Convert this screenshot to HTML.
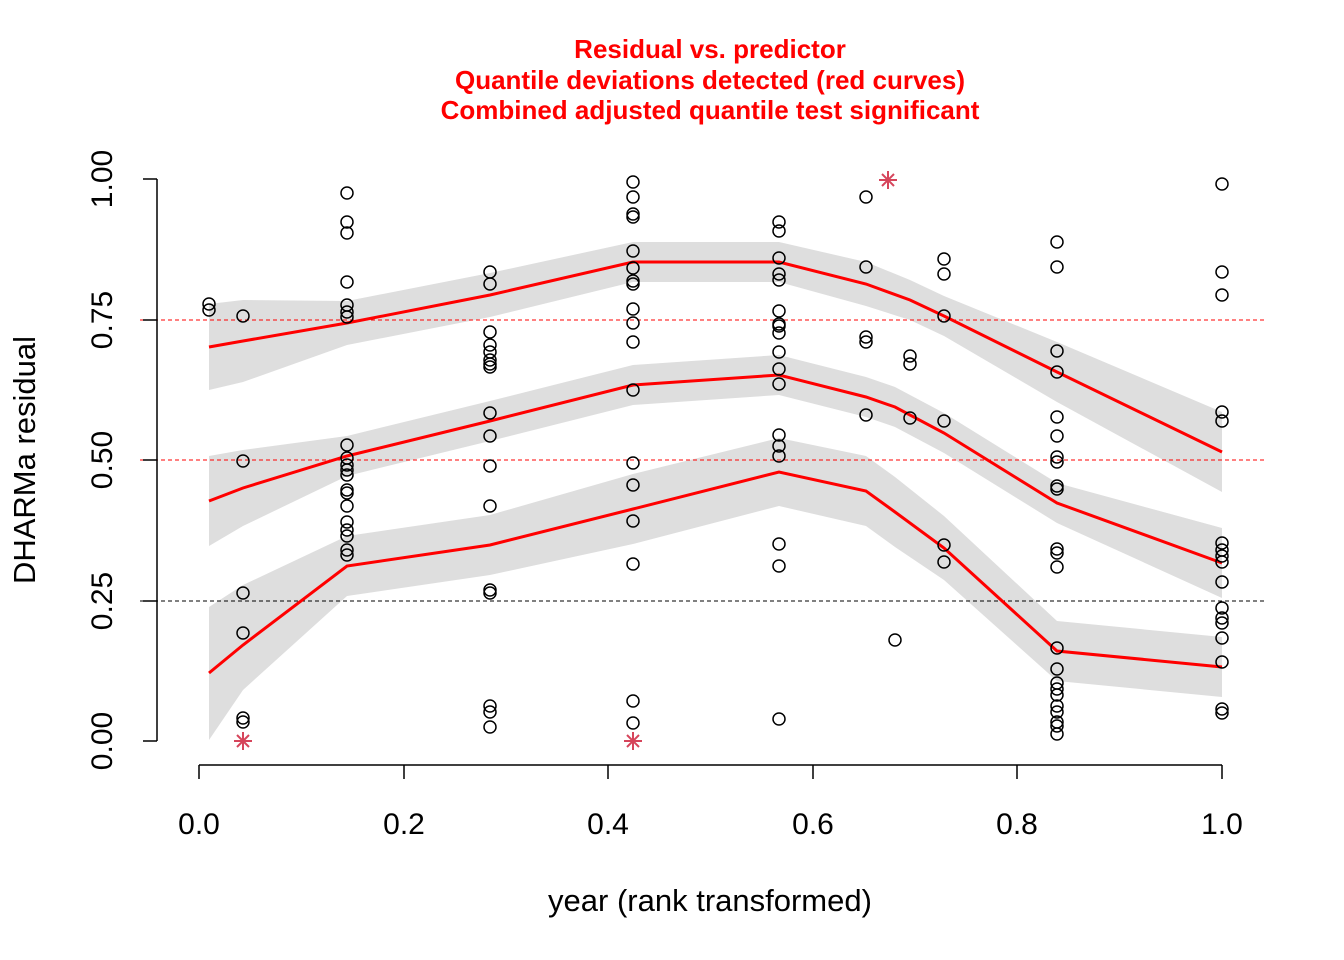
<!DOCTYPE html>
<html><head><meta charset="utf-8"><style>body{margin:0;background:#fff}svg{display:block}text{font-family:"Liberation Sans",Arial,sans-serif}</style></head>
<body>
<svg width="1344" height="960" viewBox="0 0 1344 960" xmlns="http://www.w3.org/2000/svg">
<g font-weight="bold" fill="#ff0000" font-size="26" text-anchor="middle">
<text x="710" y="58">Residual vs. predictor</text>
<text x="710" y="89">Quantile deviations detected (red curves)</text>
<text x="710" y="119">Combined adjusted quantile test significant</text>
</g>
<g fill="#dedede">
<polygon points="209,304 243,300 347,301 490,273 633,242 779,242 866,262 910,280 944,296 1057,342 1222,412 1222,492 1057,402 944,336 910,320 866,306 779,282 633,282 490,317 347,345 243,382 209,390"/>
<polygon points="209,456 243,450 347,436 490,401 633,365 779,355 866,377 895,387 944,413 1057,483 1222,528 1222,598 1057,523 944,453 895,427 866,417 779,395 633,405 490,441 347,476 243,526 209,546"/>
<polygon points="209,607 243,585 347,536 490,515 633,474 779,438 866,456 895,477 944,516 1057,621 1222,637 1222,697 1057,681 944,580 895,547 866,526 779,506 633,544 490,575 347,596 243,690 209,740"/>
</g>
<g stroke-width="1" stroke-dasharray="4,3" fill="none">
<line x1="140" y1="320" x2="1264" y2="320" stroke="#ff0000"/>
<line x1="140" y1="460" x2="1264" y2="460" stroke="#ff0000"/>
<line x1="140" y1="601" x2="1264" y2="601" stroke="#000"/>
</g>
<g fill="none" stroke="#ff0000" stroke-width="3">
<polyline points="209,347 243,341 347,323 490,295 633,262 779,262 866,284 910,300 944,316 1057,372 1222,452"/>
<polyline points="209,501 243,488 347,456 490,421 633,385 779,375 866,397 895,407 944,433 1057,503 1222,563"/>
<polyline points="209,673 243,645 347,566 490,545 633,509 779,472 866,491 895,512 944,548 1057,651 1222,667"/>
</g>
<g fill="none" stroke="#000" stroke-width="1.5">
<circle cx="209" cy="304" r="6"/><circle cx="209" cy="310" r="6"/>
<circle cx="243" cy="316" r="6"/><circle cx="243" cy="461" r="6"/><circle cx="243" cy="593" r="6"/><circle cx="243" cy="633" r="6"/><circle cx="243" cy="718" r="6"/><circle cx="243" cy="722" r="6"/>
<circle cx="347" cy="193" r="6"/><circle cx="347" cy="222" r="6"/><circle cx="347" cy="233" r="6"/><circle cx="347" cy="282" r="6"/><circle cx="347" cy="305" r="6"/><circle cx="347" cy="312" r="6"/><circle cx="347" cy="317" r="6"/><circle cx="347" cy="445" r="6"/><circle cx="347" cy="458" r="6"/><circle cx="347" cy="465" r="6"/><circle cx="347" cy="470" r="6"/><circle cx="347" cy="475" r="6"/><circle cx="347" cy="490" r="6"/><circle cx="347" cy="493" r="6"/><circle cx="347" cy="506" r="6"/><circle cx="347" cy="522" r="6"/><circle cx="347" cy="530" r="6"/><circle cx="347" cy="536" r="6"/><circle cx="347" cy="550" r="6"/><circle cx="347" cy="555" r="6"/>
<circle cx="490" cy="272" r="6"/><circle cx="490" cy="284" r="6"/><circle cx="490" cy="332" r="6"/><circle cx="490" cy="345" r="6"/><circle cx="490" cy="352" r="6"/><circle cx="490" cy="360" r="6"/><circle cx="490" cy="364" r="6"/><circle cx="490" cy="367" r="6"/><circle cx="490" cy="413" r="6"/><circle cx="490" cy="436" r="6"/><circle cx="490" cy="466" r="6"/><circle cx="490" cy="506" r="6"/><circle cx="490" cy="590" r="6"/><circle cx="490" cy="593" r="6"/><circle cx="490" cy="706" r="6"/><circle cx="490" cy="712" r="6"/><circle cx="490" cy="727" r="6"/>
<circle cx="633" cy="182" r="6"/><circle cx="633" cy="197" r="6"/><circle cx="633" cy="214" r="6"/><circle cx="633" cy="217" r="6"/><circle cx="633" cy="251" r="6"/><circle cx="633" cy="268" r="6"/><circle cx="633" cy="281" r="6"/><circle cx="633" cy="284" r="6"/><circle cx="633" cy="309" r="6"/><circle cx="633" cy="323" r="6"/><circle cx="633" cy="342" r="6"/><circle cx="633" cy="390" r="6"/><circle cx="633" cy="463" r="6"/><circle cx="633" cy="485" r="6"/><circle cx="633" cy="521" r="6"/><circle cx="633" cy="564" r="6"/><circle cx="633" cy="701" r="6"/><circle cx="633" cy="723" r="6"/>
<circle cx="779" cy="222" r="6"/><circle cx="779" cy="231" r="6"/><circle cx="779" cy="258" r="6"/><circle cx="779" cy="274" r="6"/><circle cx="779" cy="280" r="6"/><circle cx="779" cy="311" r="6"/><circle cx="779" cy="324" r="6"/><circle cx="779" cy="326" r="6"/><circle cx="779" cy="333" r="6"/><circle cx="779" cy="352" r="6"/><circle cx="779" cy="369" r="6"/><circle cx="779" cy="384" r="6"/><circle cx="779" cy="435" r="6"/><circle cx="779" cy="446" r="6"/><circle cx="779" cy="456" r="6"/><circle cx="779" cy="544" r="6"/><circle cx="779" cy="566" r="6"/><circle cx="779" cy="719" r="6"/>
<circle cx="866" cy="197" r="6"/><circle cx="866" cy="267" r="6"/><circle cx="866" cy="337" r="6"/><circle cx="866" cy="342" r="6"/><circle cx="866" cy="415" r="6"/>
<circle cx="895" cy="640" r="6"/>
<circle cx="910" cy="356" r="6"/><circle cx="910" cy="364" r="6"/><circle cx="910" cy="418" r="6"/>
<circle cx="944" cy="259" r="6"/><circle cx="944" cy="274" r="6"/><circle cx="944" cy="316" r="6"/><circle cx="944" cy="421" r="6"/><circle cx="944" cy="545" r="6"/><circle cx="944" cy="562" r="6"/>
<circle cx="1057" cy="242" r="6"/><circle cx="1057" cy="267" r="6"/><circle cx="1057" cy="351" r="6"/><circle cx="1057" cy="372" r="6"/><circle cx="1057" cy="417" r="6"/><circle cx="1057" cy="436" r="6"/><circle cx="1057" cy="457" r="6"/><circle cx="1057" cy="462" r="6"/><circle cx="1057" cy="486" r="6"/><circle cx="1057" cy="489" r="6"/><circle cx="1057" cy="549" r="6"/><circle cx="1057" cy="553" r="6"/><circle cx="1057" cy="567" r="6"/><circle cx="1057" cy="648" r="6"/><circle cx="1057" cy="669" r="6"/><circle cx="1057" cy="683" r="6"/><circle cx="1057" cy="689" r="6"/><circle cx="1057" cy="695" r="6"/><circle cx="1057" cy="706" r="6"/><circle cx="1057" cy="712" r="6"/><circle cx="1057" cy="722" r="6"/><circle cx="1057" cy="726" r="6"/><circle cx="1057" cy="734" r="6"/>
<circle cx="1222" cy="184" r="6"/><circle cx="1222" cy="272" r="6"/><circle cx="1222" cy="295" r="6"/><circle cx="1222" cy="412" r="6"/><circle cx="1222" cy="421" r="6"/><circle cx="1222" cy="543" r="6"/><circle cx="1222" cy="550" r="6"/><circle cx="1222" cy="556" r="6"/><circle cx="1222" cy="562" r="6"/><circle cx="1222" cy="582" r="6"/><circle cx="1222" cy="608" r="6"/><circle cx="1222" cy="618" r="6"/><circle cx="1222" cy="623" r="6"/><circle cx="1222" cy="638" r="6"/><circle cx="1222" cy="662" r="6"/><circle cx="1222" cy="709" r="6"/><circle cx="1222" cy="713" r="6"/>
</g>
<g stroke="#d6455b" stroke-width="2">
<path d="M234,741h18M243,732v18M237,735l12,12M249,735l-12,12"/>
<path d="M624,741h18M633,732v18M627,735l12,12M639,735l-12,12"/>
<path d="M879,180h18M888,171v18M882,174l12,12M894,174l-12,12"/>
</g>
<g stroke="#000" stroke-width="1.5" fill="none">
<line x1="157" y1="179" x2="157" y2="741"/>
<line x1="143" y1="179" x2="157" y2="179"/><line x1="143" y1="320" x2="157" y2="320"/><line x1="143" y1="460" x2="157" y2="460"/><line x1="143" y1="601" x2="157" y2="601"/><line x1="143" y1="741" x2="157" y2="741"/>
<line x1="199" y1="765" x2="1222" y2="765"/>
<line x1="199" y1="765" x2="199" y2="779"/><line x1="404" y1="765" x2="404" y2="779"/><line x1="608" y1="765" x2="608" y2="779"/><line x1="813" y1="765" x2="813" y2="779"/><line x1="1017" y1="765" x2="1017" y2="779"/><line x1="1222" y1="765" x2="1222" y2="779"/>
</g>
<g font-size="30" text-anchor="middle" fill="#000">
<text x="199" y="834">0.0</text><text x="404" y="834">0.2</text><text x="608" y="834">0.4</text><text x="813" y="834">0.6</text><text x="1017" y="834">0.8</text><text x="1222" y="834">1.0</text>
<text transform="translate(112,179) rotate(-90)">1.00</text>
<text transform="translate(112,320) rotate(-90)">0.75</text>
<text transform="translate(112,460) rotate(-90)">0.50</text>
<text transform="translate(112,601) rotate(-90)">0.25</text>
<text transform="translate(112,741) rotate(-90)">0.00</text>
</g>
<g font-size="31" text-anchor="middle" fill="#000">
<text x="710" y="911">year (rank transformed)</text>
<text transform="translate(35,460) rotate(-90)">DHARMa residual</text>
</g>
</svg>
</body></html>
